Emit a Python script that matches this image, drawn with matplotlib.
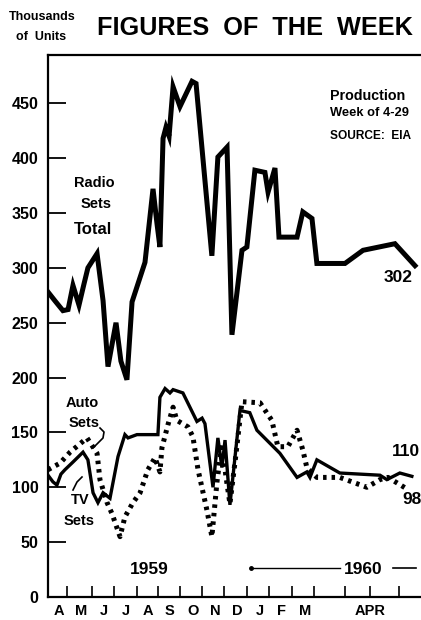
import matplotlib.pyplot as plt
import numpy as np

# time axis in months from the start of April 1959
radio_x = [0.00, 0.31, 0.67, 0.90, 1.12, 1.39, 1.61, 1.79, 2.20, 2.47, 2.69, 3.05, 3.27, 3.54,
           3.77, 4.35, 4.71, 4.89, 5.02, 5.16, 5.29, 5.43, 5.61, 5.92, 6.46, 6.64, 7.35, 7.62,
           8.03, 8.25, 8.70, 8.92, 9.28, 9.73, 9.87, 10.18, 10.36, 11.17, 11.43, 11.84, 12.06,
           13.32, 14.13, 15.56, 16.46]
radio_y = [278, 270, 261, 262, 284, 266, 285, 300, 313, 270, 210, 250, 215, 198,
           269, 305, 372, 340, 319, 418, 428, 420, 465, 447, 470, 468, 311, 401,
           410, 239, 316, 319, 389, 387, 369, 391, 328, 328, 351, 345, 304,
           304, 316, 322, 302]

solid_x = [0.00, 0.22, 0.40, 0.58, 0.76, 1.12, 1.57, 1.79, 2.02, 2.24, 2.47, 2.78, 3.14, 3.45,
           3.59, 3.99, 4.93, 5.02, 5.25, 5.47, 5.61, 6.05, 6.68, 6.91, 7.04, 7.40, 7.62, 7.80,
           7.94, 8.16, 8.61, 9.05, 9.37, 10.40, 11.17, 11.61, 11.75, 12.06, 13.09, 14.89, 15.20,
           15.78, 16.32]
solid_y = [111, 105, 102, 112, 116, 123, 132, 125, 95, 86, 95, 90, 128, 148,
           145, 148, 148, 182, 190, 186, 189, 186, 160, 163, 158, 100, 145, 118,
           143, 84, 170, 168, 152, 131, 109, 114, 109, 125, 113, 111, 107,
           113, 110]

dotted_x = [0.00, 0.54, 0.99, 1.75, 2.20, 2.33, 2.65, 2.87, 3.23, 3.45, 3.81, 4.13, 4.48, 4.80,
            5.02, 5.11, 5.38, 5.61, 5.78, 6.28, 6.50, 6.73, 7.13, 7.35, 7.58, 7.80, 7.98, 8.16,
            8.43, 8.70, 9.51, 10.04, 10.31, 10.76, 11.17, 11.43, 11.61, 12.06, 13.09, 14.30,
            14.89, 15.25, 16.14]
dotted_y = [116, 122, 132, 145, 131, 107, 86, 76, 55, 73, 86, 95, 116, 127,
            114, 136, 157, 173, 161, 155, 146, 116, 79, 55, 105, 140, 110, 85,
            130, 178, 177, 161, 137, 137, 152, 134, 118, 109, 109, 100,
            107, 109, 98]

month_ticks = [0.84, 1.99, 2.96, 3.98, 4.95, 5.92, 6.89, 7.89, 8.91, 9.93, 10.93, 11.93,
               13.32, 14.44, 15.74]
month_pos = [0.49, 1.48, 2.51, 3.50, 4.48, 5.47, 6.50, 7.49, 8.48, 9.51, 10.49, 11.52, 14.44]
month_lbl = ['A', 'M', 'J', 'J', 'A', 'S', 'O', 'N', 'D', 'J', 'F', 'M', 'APR']
y_ticks = [0, 50, 100, 150, 200, 250, 300, 350, 400, 450]

W, H = 421, 620
plt.rcParams['font.family'] = ['Liberation Sans', 'DejaVu Sans']
plt.rcParams['font.weight'] = 'bold'

fig = plt.figure(figsize=(W / 100, H / 100), dpi=100)
ax = fig.add_axes([48 / W, 1 - 597 / H, 373 / W, (597 - 55) / H])


def ftxt(px, py, s, **kw):
    kw.setdefault('ha', 'left')
    kw.setdefault('va', 'center')
    kw.setdefault('fontweight', 'bold')
    return fig.text(px / W, 1 - py / H, s, **kw)


ax.plot(radio_x, radio_y, color='black', lw=3.6, solid_joinstyle='miter', zorder=3)
ax.plot(solid_x, solid_y, color='black', lw=2.4, solid_joinstyle='miter', zorder=3)
ax.plot(dotted_x, dotted_y, color='black', lw=3.6, linestyle=(0, (0.7, 1.0)),
        dash_capstyle='butt', zorder=2)

ax.set_xlim(0, 16.73)
ax.set_ylim(0, 494)
ax.spines['right'].set_visible(False)
for s in ['left', 'bottom', 'top']:
    ax.spines[s].set_linewidth(1.6)

ax.set_yticks(y_ticks)
ax.set_yticklabels([str(v) for v in y_ticks], fontsize=11.5, fontweight='bold')
ax.tick_params(axis='y', direction='in', length=13, width=1.3, pad=7)

ax.xaxis.remove_overlapping_locs = False
ax.set_xticks(month_ticks)
ax.set_xticklabels([])
ax.set_xticks(month_pos, minor=True)
ax.set_xticklabels(month_lbl, minor=True, fontsize=10.5, fontweight='bold')
ax.tick_params(axis='x', which='major', direction='in', length=8, width=1.2)
ax.tick_params(axis='x', which='minor', length=0, pad=5)

# heading
ftxt(9, 17, 'Thousands', fontsize=9)
ftxt(16, 37, 'of  Units', fontsize=9)
ftxt(97, 28, 'FIGURES  OF  THE  WEEK', fontsize=18.2)

ftxt(330, 96, 'Production', fontsize=10.3)
ftxt(330, 113, 'Week of 4-29', fontsize=9.3)
ftxt(330, 136, 'SOURCE:  EIA', fontsize=8.6)

# series labels
ftxt(94, 183, 'Radio', fontsize=10.5, ha='center')
ftxt(96, 204, 'Sets', fontsize=10.5, ha='center')
ftxt(93, 229, 'Total', fontsize=12, ha='center')
ftxt(82, 403, 'Auto', fontsize=10.5, ha='center')
ftxt(84, 423, 'Sets', fontsize=10.5, ha='center')
ftxt(80, 500, 'TV', fontsize=10.5, ha='center')
ftxt(79, 521, 'Sets', fontsize=10.5, ha='center')

ftxt(398, 277, '302', fontsize=12.5, ha='center')
ftxt(406, 452, '110', fontsize=12.5, ha='center')
ftxt(412, 500, '98', fontsize=12.5, ha='center')

ftxt(149, 569, '1959', fontsize=12.5, ha='center')
ftxt(363, 569, '1960', fontsize=12.5, ha='center')


# leaders
def fline(xs, ys, **kw):
    fig.add_artist(plt.Line2D([x / W for x in xs], [1 - y / H for y in ys],
                              color='black', **kw))


fline([100, 104, 103, 93], [428, 432, 438, 448], lw=1.2)
fline([73, 77, 82], [490, 482, 477], lw=1.2)
fline([251, 340], [568, 568], lw=1.0)
fline([393, 416], [568, 568], lw=1.2)
fig.add_artist(plt.Line2D([251 / W], [1 - 568 / H], marker='o', ms=2.5, color='black'))

fig.savefig('out.png', dpi=100)
